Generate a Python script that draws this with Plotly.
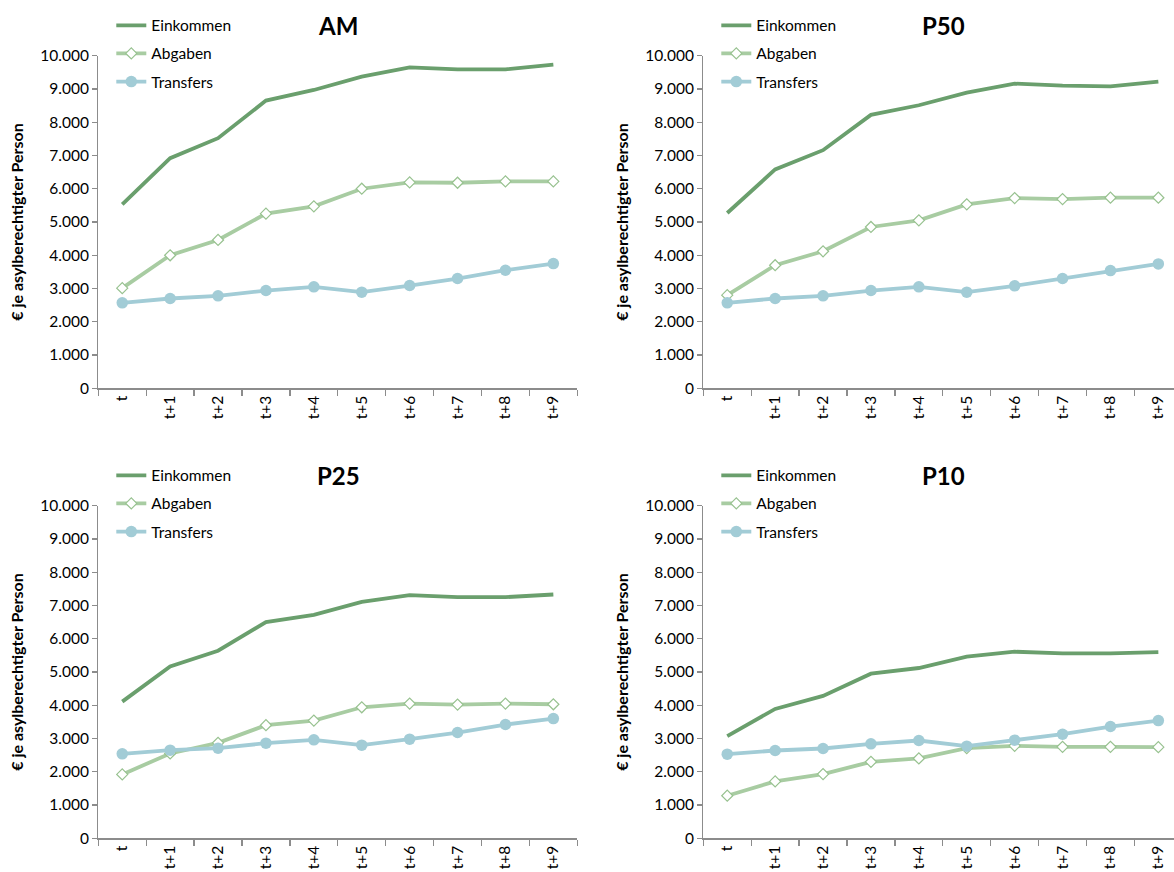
import plotly.graph_objects as go

periods = ["t", "t+1", "t+2", "t+3", "t+4", "t+5", "t+6", "t+7", "t+8", "t+9"]
panel_titles = ["AM", "P50", "P25", "P10"]
series_names = ["Einkommen", "Abgaben", "Transfers"]

am_einkommen = [5530, 6920, 7520, 8650, 8970, 9370, 9650, 9590, 9590, 9730]
am_abgaben = [3010, 4000, 4460, 5250, 5470, 6000, 6190, 6180, 6220, 6220]
am_transfers = [2570, 2700, 2780, 2940, 3050, 2890, 3090, 3300, 3550, 3750]

p50_einkommen = [5270, 6580, 7160, 8220, 8510, 8890, 9160, 9100, 9080, 9220]
p50_abgaben = [2800, 3700, 4120, 4850, 5050, 5530, 5720, 5690, 5730, 5730]
p50_transfers = [2570, 2700, 2780, 2940, 3050, 2890, 3080, 3300, 3540, 3740]

p25_einkommen = [4110, 5170, 5640, 6500, 6720, 7110, 7310, 7250, 7250, 7330]
p25_abgaben = [1920, 2550, 2870, 3400, 3540, 3940, 4050, 4020, 4050, 4030]
p25_transfers = [2540, 2650, 2710, 2860, 2960, 2800, 2980, 3180, 3420, 3600]

p10_einkommen = [3070, 3890, 4280, 4950, 5120, 5460, 5610, 5560, 5560, 5600]
p10_abgaben = [1280, 1710, 1930, 2300, 2400, 2710, 2780, 2750, 2750, 2740]
p10_transfers = [2530, 2640, 2700, 2840, 2940, 2770, 2950, 3130, 3360, 3540]

panels = [
    (am_einkommen, am_abgaben, am_transfers),
    (p50_einkommen, p50_abgaben, p50_transfers),
    (p25_einkommen, p25_abgaben, p25_transfers),
    (p10_einkommen, p10_abgaben, p10_transfers),
]

W, H = 1174, 872
FONT = "Lato"
AXIS_COLOR = "#8C8C8C"
C_EIN = "#6A9F6D"
C_ABG = "#A8CCA2"
C_TRA = "#A2CCD6"

# panel pixel geometry (left, right, top, bottom)
boxes = [
    (98.3, 577.3, 55.7, 388.3),
    (703.3, 1182.3, 55.7, 388.3),
    (98.3, 577.3, 505.7, 838.3),
    (703.3, 1182.3, 505.7, 838.3),
]

fig = go.Figure()
layout = dict(
    width=W, height=H,
    margin=dict(l=0, r=0, t=0, b=0, pad=0, autoexpand=False),
    paper_bgcolor="white", plot_bgcolor="white",
    separators=",.",
    font=dict(family=FONT, size=15.5, color="#000000"),
    showlegend=True,
)
annotations = []

for i, (ein, abg, tra) in enumerate(panels):
    n = i + 1
    xa = "x" if n == 1 else f"x{n}"
    ya = "y" if n == 1 else f"y{n}"
    leg = "legend" if n == 1 else f"legend{n}"
    common = dict(xaxis=xa, yaxis=ya, legend=leg, hoverinfo="skip")
    fig.add_trace(go.Scatter(x=periods, y=ein, name=series_names[0], mode="lines",
                             line=dict(color=C_EIN, width=3.8), legendgroup=f"{n}a", **common))
    fig.add_trace(go.Scatter(x=periods, y=abg, name=series_names[1], mode="lines+markers",
                             line=dict(color=C_ABG, width=3.8),
                             marker=dict(symbol="diamond", size=8.5, color="white",
                                         line=dict(color="#98C290", width=1.2)),
                             legendgroup=f"{n}b", **common))
    fig.add_trace(go.Scatter(x=periods, y=tra, name=series_names[2], mode="lines+markers",
                             line=dict(color=C_TRA, width=3.8),
                             marker=dict(symbol="circle", size=11.5, color=C_TRA),
                             legendgroup=f"{n}c", **common))

    l, r, t, b = boxes[i]
    band = (r - l) / 10.0
    r_vis = min(r, W)
    x_end = -0.5 + (r_vis - l) / band
    xdom = [l / W, r_vis / W]
    ydom = [1 - b / H, 1 - t / H]
    xkey = "xaxis" if n == 1 else f"xaxis{n}"
    ykey = "yaxis" if n == 1 else f"yaxis{n}"
    layout[xkey] = dict(
        domain=xdom, anchor=ya, type="category", range=[-0.5, x_end],
        showgrid=False, zeroline=False, showline=True, linecolor=AXIS_COLOR, linewidth=1.3,
        ticks="outside", ticklen=6, tickcolor=AXIS_COLOR, tickwidth=1.3,
        tickson="boundaries", tickangle=-90, automargin=False,
        tickfont=dict(family=FONT, size=15.5, color="#000000"),
        fixedrange=True,
    )
    layout[ykey] = dict(
        domain=ydom, anchor=xa, range=[0, 10000], dtick=1000, tick0=0,
        tickformat=",d", automargin=False,
        showgrid=False, zeroline=False, showline=True, linecolor=AXIS_COLOR, linewidth=1.3,
        ticks="outside", ticklen=5, tickcolor=AXIS_COLOR, tickwidth=1.3,
        tickfont=dict(family=FONT, size=15.5, color="#000000"),
        title=dict(text="€ je asylberechtigter Person",
                   font=dict(family=FONT, size=16, color="#000000", weight="bold"),
                   standoff=12),
        fixedrange=True,
    )
    layout[leg] = dict(
        x=(l + 13) / W, xanchor="left",
        y=1 - (t - 47) / H, yanchor="top",
        bgcolor="rgba(0,0,0,0)", borderwidth=0,
        font=dict(family=FONT, size=15.5, color="#000000"),
        traceorder="grouped", tracegroupgap=5,
        itemwidth=30,
    )
    annotations.append(dict(
        text=f"<b>{panel_titles[i]}</b>", x=(l + 240) / W,
        y=1 - (t - 30) / H, xref="paper", yref="paper",
        xanchor="center", yanchor="middle", showarrow=False,
        font=dict(family=FONT, size=24, color="#000000"),
    ))

layout["annotations"] = annotations
fig.update_layout(**layout)
fig.write_html(
    "out.html",
    config={"displayModeBar": False, "staticPlot": True},
    post_script="document.body.style.margin='0';document.body.style.padding='0';",
)
